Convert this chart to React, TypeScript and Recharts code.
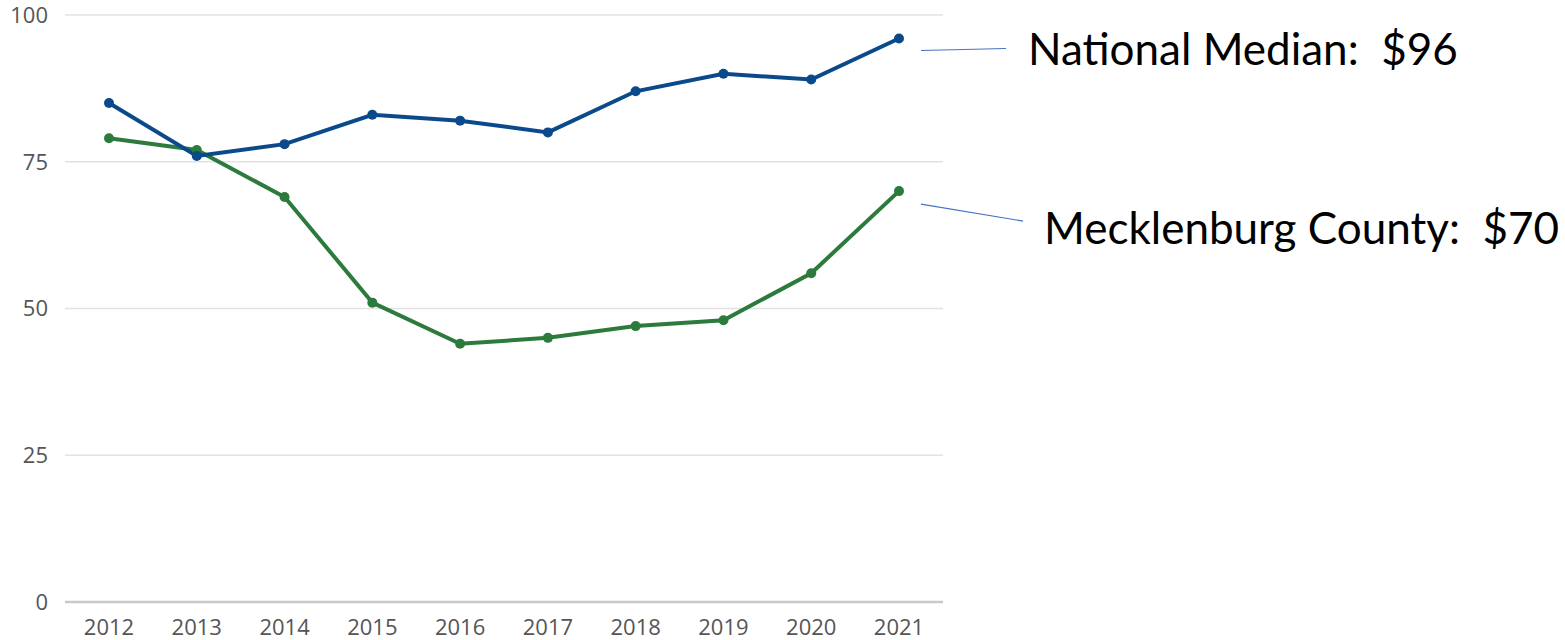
import { CartesianGrid, LabelList, Line, LineChart, XAxis, YAxis } from "recharts";

const years = ["2012", "2013", "2014", "2015", "2016", "2017", "2018", "2019", "2020", "2021"];
const nationalMedian = [85, 76, 78, 83, 82, 80, 87, 90, 89, 96];
const mecklenburg = [79, 77, 69, 51, 44, 45, 47, 48, 56, 70];
const yTicks = [0, 25, 50, 75, 100];

const data = years.map((year, i) => ({
  year,
  national: nationalMedian[i],
  county: mecklenburg[i],
}));

const lastIndex = years.length - 1;

// callout drawn next to the last point of a series
const Callout = (props: any) => {
  const { x, y, index, value, text, lineEnd, textDx, textDy } = props;
  if (index !== lastIndex) return null;
  return (
    <g>
      <line
        x1={x + 22}
        y1={y + lineEnd[0]}
        x2={x + lineEnd[2]}
        y2={y + lineEnd[1]}
        stroke="#4472c4"
        strokeWidth={1.2}
      />
      <text
        x={x + textDx}
        y={y + textDy}
        fill="#000"
        fontSize={44}
        fontFamily="Lato, 'Open Sans', sans-serif"
        style={{ whiteSpace: "pre" }}
      >
        {`${text}:  $${value}`}
      </text>
    </g>
  );
};

export default function App() {
  return (
    <div style={{ position: "absolute", left: 0, top: 0, background: "#fff" }}>
      <LineChart
        width={1565}
        height={640}
        data={data}
        margin={{ top: 15, right: 622, bottom: 8, left: 0 }}
      >
        <CartesianGrid vertical={false} stroke="#e2e2e2" strokeWidth={1.5} />
        <XAxis
          dataKey="year"
          height={30}
          padding={{ left: 44, right: 44 }}
          tickLine={false}
          axisLine={{ stroke: "#c8c8c8", strokeWidth: 2.5 }}
          tick={{ fill: "#555", fontSize: 22, fontFamily: "'Open Sans', sans-serif" }}
          tickMargin={11}
        />
        <YAxis
          domain={[0, 100]}
          ticks={yTicks}
          width={65}
          axisLine={false}
          tickLine={false}
          tickSize={0}
          tickMargin={17}
          tick={{ fill: "#555", fontSize: 22, fontFamily: "'Open Sans', sans-serif" }}
        />
        <Line
          dataKey="county"
          stroke="#2c7a3c"
          strokeWidth={4}
          dot={{ r: 5, fill: "#2c7a3c", stroke: "#2c7a3c", strokeWidth: 0 }}
          isAnimationActive={false}
        >
          <LabelList
            dataKey="county"
            content={(p: any) => (
              <Callout {...p} text="Mecklenburg County" lineEnd={[13, 30, 124]} textDx={145} textDy={53} />
            )}
          />
        </Line>
        <Line
          dataKey="national"
          stroke="#0b4a8a"
          strokeWidth={4}
          dot={{ r: 5, fill: "#0b4a8a", stroke: "#0b4a8a", strokeWidth: 0 }}
          isAnimationActive={false}
        >
          <LabelList
            dataKey="national"
            content={(p: any) => (
              <Callout {...p} text="National Median" lineEnd={[12, 10, 107]} textDx={129} textDy={27} />
            )}
          />
        </Line>
      </LineChart>
    </div>
  );
}
